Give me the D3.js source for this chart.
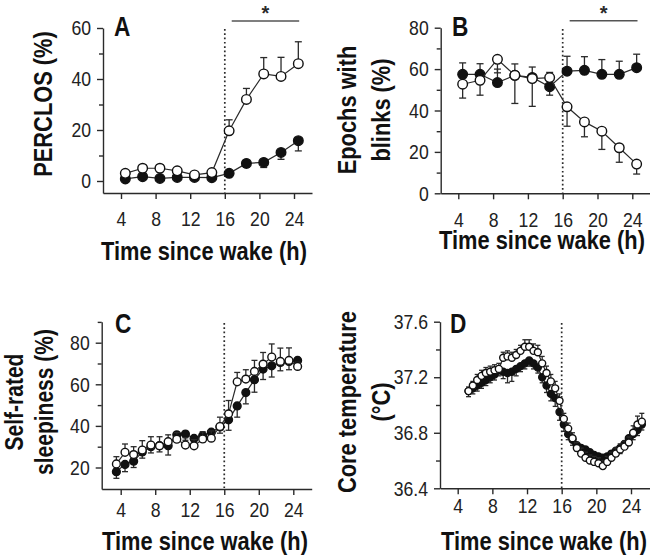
<!DOCTYPE html>
<html><head><meta charset="utf-8">
<script src="https://cdn.jsdelivr.net/npm/d3@7"></script>
<style>body{margin:0;background:#fff} svg{display:block}</style>
</head><body>
<svg id="c" width="650" height="560"></svg>
<script>
// ---------------- DATA ----------------
const xTickValues = [4, 8, 12, 16, 20, 24];

// Panel A / B : 2-h bins
const hoursAB = [4.5, 6.5, 8.5, 10.5, 12.5, 14.5, 16.5, 18.5, 20.5, 22.5, 24.5];
const perclosOpen = [3.0, 5.0, 5.0, 4.0, 2.4, 3.3, 19.7, 32.0, 42.0, 41.0, 46.0];
const perclosOpenErr = [1.2, 1.2, 1.2, 1.2, 1.0, 1.2, 4.3, 4.3, 6.4, 7.5, 8.6];
const perclosFilled = [0.8, 1.7, 1.0, 1.4, 1.4, 1.3, 3.0, 6.9, 7.3, 11.2, 15.8];
const perclosFilledErr = [-0.5, -0.6, -0.5, -0.5, -0.5, -0.5, -0.8, -1.5, -2.0, -2.7, -4.0];
const perclosTicks = [0, 20, 40, 60];
const perclosMinor = [10, 30, 50];

const blinksOpen = [52.7, 54.6, 64.7, 57.0, 55.4, 55.9, 41.8, 34.5, 30.0, 22.0, 14.1];
const blinksOpenErr = [-6.7, -7.2, -6.5, -13.6, -13.4, 2.5, -9.4, -7.2, -8.8, -7.0, -4.8];
const blinksFilled = [57.5, 57.5, 53.5, 57.0, 56.0, 51.5, 59.0, 59.4, 57.5, 57.5, 60.7];
const blinksFilledErr = [5.5, 5.1, 6.5, 5.5, 5.0, -4.1, 7.2, 6.6, 7.1, 6.3, 6.5];
const blinksTicks = [0, 20, 40, 60, 80];
const blinksMinor = [10, 30, 50, 70];

// Panel C : hourly
const hoursC = [3.5, 4.5, 5.5, 6.5, 7.5, 8.5, 9.5, 10.5, 11.5, 12.5, 13.5, 14.5, 15.5, 16.5, 17.5, 18.5, 19.5, 20.5, 21.5, 22.5, 23.5, 24.5];
const sleepOpen = [21.7, 27.3, 26.2, 28.4, 30.8, 30.4, 32.4, 33.6, 30.8, 30.4, 33.7, 34.1, 39.7, 45.8, 61.2, 62.5, 66.2, 69.7, 73.1, 71.0, 71.5, 68.6];
const sleepOpenErr = [3.5, 4.0, 3.8, 4.5, 4.0, 4.4, 3.3, 3.2, 3.5, 3.0, 3.5, 3.5, 4.5, 6.4, 4.5, 4.5, 5.3, 5.6, 6.3, 6.4, 6.0, 2.0];
const sleepFilled = [18.0, 21.5, 23.0, 27.5, 30.0, 30.5, 30.5, 35.7, 36.1, 34.0, 35.3, 37.0, 39.5, 42.9, 49.6, 56.0, 62.2, 67.3, 68.9, 70.5, 71.0, 71.5];
const sleepFilledErr = [-3.2, -3.5, -3.0, -3.0, -3.0, -3.0, -4.5, -3.0, -3.0, -3.0, -3.0, -3.0, -3.0, -5.0, -5.4, -5.4, -6.0, -5.0, -5.4, -4.0, -4.0, -2.5];
const sleepTicks = [20, 40, 60, 80];
const sleepMinor = [30, 50, 70, 90];

// Panel D : 30-min bins
const hoursD = [5.25, 5.75, 6.25, 6.75, 7.25, 7.75, 8.25, 8.75, 9.25, 9.75, 10.25, 10.75, 11.25, 11.75, 12.25, 12.75, 13.25, 13.75, 14.25, 14.75, 15.25, 15.75, 16.25, 16.75, 17.25, 17.75, 18.25, 18.75, 19.25, 19.75, 20.25, 20.75, 21.25, 21.75, 22.25, 22.75, 23.25, 23.75, 24.25, 24.75, 25.25];
const tempOpen = [37.10, 37.14, 37.18, 37.21, 37.23, 37.24, 37.25, 37.26, 37.34, 37.35, 37.34, 37.36, 37.39, 37.42, 37.42, 37.39, 37.38, 37.30, 37.23, 37.17, 37.12, 37.03, 36.90, 36.83, 36.76, 36.69, 36.65, 36.62, 36.60, 36.59, 36.58, 36.56, 36.59, 36.62, 36.65, 36.68, 36.70, 36.73, 36.80, 36.86, 36.88];
const tempOpenErr = [0.03, 0.03, 0.04, 0.04, 0.04, 0.04, 0.04, 0.04, 0.04, 0.04, 0.04, 0.04, 0.04, 0.05, 0.05, 0.05, 0.05, 0.05, 0.05, 0.05, 0.05, 0.05, 0.04, 0.04, 0.04, 0.04, 0.04, 0.04, 0.04, 0.04, 0.04, 0.04, 0.04, 0.04, 0.04, 0.04, 0.04, 0.04, 0.05, 0.06, 0.06];
const tempFilled = [37.10, 37.12, 37.14, 37.16, 37.18, 37.20, 37.22, 37.25, 37.24, 37.23, 37.24, 37.26, 37.28, 37.30, 37.32, 37.30, 37.27, 37.20, 37.14, 37.08, 37.05, 36.95, 36.86, 36.79, 36.75, 36.71, 36.69, 36.68, 36.66, 36.64, 36.63, 36.62, 36.63, 36.65, 36.67, 36.69, 36.72, 36.76, 36.79, 36.82, 36.86];
const tempFilledErr = [-0.04, -0.04, -0.04, -0.04, -0.04, -0.04, -0.04, -0.04, -0.05, -0.07, -0.07, -0.05, -0.04, -0.04, -0.04, -0.04, -0.04, -0.04, -0.05, -0.05, -0.06, -0.06, -0.05, -0.04, -0.04, -0.04, -0.04, -0.04, -0.04, -0.04, -0.04, -0.04, -0.04, -0.04, -0.04, -0.04, -0.04, -0.04, -0.04, -0.04, -0.04];
const tempTicks = [36.4, 36.8, 37.2, 37.6];
const tempMinor = [36.6, 37.0, 37.4];

// ---------------- DRAWING ----------------
const FONT = "'Liberation Sans',Arial,sans-serif";
const INK = "#2a2a2a";
const SX = 0.84;          // horizontal condensing to mimic a narrow typeface
const TICK_FS = 21;
const svg = d3.select('#c').style('font-family', FONT);

function boldText(g, x, y, rot, txt, fs, anchor) {
  return g.append('text')
    .attr('transform', `translate(${x},${y}) rotate(${rot}) scale(${SX},1)`)
    .attr('text-anchor', anchor || 'middle')
    .style('font-size', fs + 'px').style('font-weight', 'bold')
    .attr('fill', '#111').text(txt);
}

function drawPanel(p) {
  const g = svg.append('g');
  const x = d3.scaleLinear().domain([4, 24]).range(p.xRef);
  x.domain([x.invert(p.xAxis[0]), x.invert(p.xAxis[1])]).range(p.xAxis);
  const y = d3.scaleLinear().domain(p.yRefVals).range(p.yRef);
  y.domain([y.invert(p.yAxis[1]), y.invert(p.yAxis[0])]).range([p.yAxis[1], p.yAxis[0]]);
  const bottom = p.yAxis[1];

  // x axis
  const xa = g.append('g').attr('transform', `translate(0,${bottom})`)
    .call(d3.axisBottom(x).tickValues(xTickValues).tickSize(6).tickSizeOuter(0)
      .tickPadding(p.xLabBase - bottom - 6 - 0.71 * TICK_FS));
  // y axis
  const ya = g.append('g').attr('transform', `translate(${p.xAxis[0]},0)`)
    .call(d3.axisLeft(y).tickValues(p.yTicks).tickSize(6).tickSizeOuter(0).tickPadding(6)
      .tickFormat(p.yFmt || d3.format('d')));
  const ym = g.append('g').attr('transform', `translate(${p.xAxis[0]},0)`)
    .call(d3.axisLeft(y).tickValues(p.yMinor).tickSize(4).tickFormat(''));
  ym.select('.domain').remove();
  [xa, ya, ym].forEach(a => {
    a.selectAll('path,line').attr('stroke', INK).attr('stroke-width', 1.4);
    a.selectAll('text').attr('fill', '#222').style('font-size', TICK_FS + 'px').style('font-family', FONT);
  });
  xa.selectAll('text').attr('transform', `scale(${SX},1)`);
  ya.selectAll('text').attr('x', -12 / SX).attr('transform', `scale(${SX},1)`);

  // dotted line at 16 h
  g.append('line').attr('x1', x(16)).attr('x2', x(16)).attr('y1', p.dotTop).attr('y2', bottom)
    .attr('stroke', INK).attr('stroke-width', 1.7).attr('stroke-dasharray', '1.7,2.6');

  // significance
  if (p.sig) {
    g.append('line').attr('x1', x(p.sig[0])).attr('x2', x(p.sig[1])).attr('y1', p.sigY).attr('y2', p.sigY)
      .attr('stroke', '#555').attr('stroke-width', 1.4);
    g.append('text').attr('x', x((p.sig[0] + p.sig[1]) / 2)).attr('y', 19.5)
      .attr('text-anchor', 'middle').style('font-size', '20px').style('font-weight', 'bold')
      .attr('fill', INK).text('*');
  }

  // series
  const line = d3.line().x(d => x(d.h)).y(d => y(d.v));
  function series(hours, vals, errs, filled) {
    const d = hours.map((h, i) => ({h, v: vals[i], e: errs[i]}));
    const s = g.append('g');
    s.selectAll('line.eb').data(d).join('line').attr('class', 'eb')
      .attr('x1', q => x(q.h)).attr('x2', q => x(q.h))
      .attr('y1', q => y(q.v)).attr('y2', q => y(q.v + q.e))
      .attr('stroke', INK).attr('stroke-width', 1.3);
    s.selectAll('line.cap').data(d).join('line').attr('class', 'cap')
      .attr('x1', q => x(q.h) - p.cap / 2).attr('x2', q => x(q.h) + p.cap / 2)
      .attr('y1', q => y(q.v + q.e)).attr('y2', q => y(q.v + q.e))
      .attr('stroke', INK).attr('stroke-width', 1.3);
    s.append('path').datum(d).attr('d', line).attr('fill', 'none')
      .attr('stroke', INK).attr('stroke-width', 1.2);
    s.selectAll('circle').data(d).join('circle')
      .attr('cx', q => x(q.h)).attr('cy', q => y(q.v)).attr('r', p.r)
      .attr('fill', filled ? '#111' : '#fff').attr('stroke', '#111').attr('stroke-width', 1.4);
  }
  series(p.hours, p.filled, p.filledErr, true);
  series(p.hours, p.open, p.openErr, false);

  // panel letter
  boldText(g, p.letterPos[0], p.letterPos[1], 0, p.letter, 27, 'start');
  // x title
  boldText(g, p.xTitle[0], p.xTitle[1], 0, 'Time since wake (h)', 26);
  // y title
  p.yTitle.forEach(t => boldText(g, t[1], p.yTitleY, -90, t[0], p.yTitleFs || 26));
}

drawPanel({
  letter: 'A', letterPos: [114, 36],
  xRef: [121, 294], xAxis: [103, 312],
  yRefVals: [0, 60], yRef: [181, 28], yAxis: [28, 193],
  yTicks: perclosTicks, yMinor: perclosMinor,
  xLabBase: 226, dotTop: 29,
  sig: [16.8, 24.6], sigY: 21,
  hours: hoursAB, open: perclosOpen, openErr: perclosOpenErr,
  filled: perclosFilled, filledErr: perclosFilledErr, r: 4.8, cap: 7,
  xTitle: [204, 260], yTitle: [['PERCLOS (%)', 52]], yTitleY: 104
});

drawPanel({
  letter: 'B', letterPos: [452, 36],
  xRef: [458.3, 632.3], xAxis: [440.7, 650],
  yRefVals: [0, 80], yRef: [193.3, 27.7], yAxis: [27.7, 193.3],
  yTicks: blinksTicks, yMinor: blinksMinor,
  xLabBase: 227, dotTop: 29,
  sig: [16.8, 24.6], sigY: 20.7,
  hours: hoursAB, open: blinksOpen, openErr: blinksOpenErr,
  filled: blinksFilled, filledErr: blinksFilledErr, r: 4.8, cap: 7,
  xTitle: [542, 249], yTitle: [['Epochs with', 356], ['blinks (%)', 390]], yTitleY: 110
});

drawPanel({
  letter: 'C', letterPos: [115, 333],
  xRef: [120.7, 293.3], xAxis: [101.7, 311.7],
  yRefVals: [20, 80], yRef: [467.5, 342.7], yAxis: [321.7, 489],
  yTicks: sleepTicks, yMinor: sleepMinor,
  xLabBase: 517, dotTop: 323,
  hours: hoursC, open: sleepOpen, openErr: sleepOpenErr,
  filled: sleepFilled, filledErr: sleepFilledErr, r: 3.9, cap: 6,
  xTitle: [205, 550], yTitle: [['Self-rated', 23], ['sleepiness (%)', 53]], yTitleY: 402, yTitleFs: 25
});

drawPanel({
  letter: 'D', letterPos: [450, 333],
  xRef: [457.7, 631], xAxis: [440, 650],
  yRefVals: [36.4, 37.6], yRef: [488.3, 321.7], yAxis: [321.7, 488.3],
  yTicks: tempTicks, yMinor: tempMinor, yFmt: d3.format('.1f'),
  xLabBase: 513, dotTop: 323,
  hours: hoursD, open: tempOpen, openErr: tempOpenErr,
  filled: tempFilled, filledErr: tempFilledErr, r: 3.5, cap: 5,
  xTitle: [544, 550], yTitle: [['Core temperature', 356], ['(°C)', 390]], yTitleY: 402
});
</script>
</body></html>
